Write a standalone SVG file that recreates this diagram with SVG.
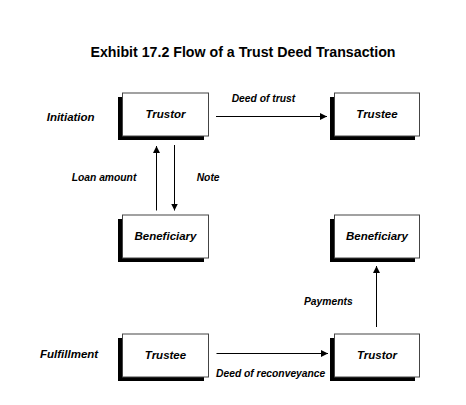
<svg xmlns="http://www.w3.org/2000/svg" width="466" height="405" viewBox="0 0 466 405">
<defs>
<style>
.shadow{fill:#000;}
.box{fill:#fff;stroke:#444;stroke-width:1;}
.node{font-family:"Liberation Sans",Arial,sans-serif;font-size:11.5px;font-weight:bold;font-style:italic;fill:#000;text-anchor:middle;}
.side{font-family:"Liberation Sans",Arial,sans-serif;font-size:11.5px;font-weight:bold;font-style:italic;fill:#000;}
.elabel{font-family:"Liberation Sans",Arial,sans-serif;font-size:10.3px;font-weight:bold;font-style:italic;fill:#000;}
.title{font-family:"Liberation Sans",Arial,sans-serif;font-size:14.2px;font-weight:bold;fill:#000;text-anchor:middle;}
.edge{stroke:#000;stroke-width:1;fill:none;marker-end:url(#arrow);}
</style>
<marker id="arrow" viewBox="0 0 10 10" refX="10" refY="5" markerWidth="7" markerHeight="7" markerUnits="userSpaceOnUse" orient="auto">
<path d="M0,0 L10,5 L0,10 z" fill="#000"/>
</marker>
</defs>
<rect width="466" height="405" fill="#fff"/>
<text class="title" x="243" y="57">Exhibit 17.2 Flow of a Trust Deed Transaction</text>
<text class="side" x="46.7" y="120.7">Initiation</text>
<text class="side" x="40" y="358">Fulfillment</text>

<g id="trustor-top">
<rect class="shadow" x="118" y="97" width="86" height="43"/>
<rect class="box" x="122.5" y="93" width="86" height="43"/>
<text class="node" x="165.5" y="117.5">Trustor</text>
</g>
<g id="trustee-top">
<rect class="shadow" x="330" y="97" width="85" height="43"/>
<rect class="box" x="334.5" y="93" width="85" height="43"/>
<text class="node" x="377" y="117.5">Trustee</text>
</g>
<g id="beneficiary-left">
<rect class="shadow" x="118" y="219" width="86" height="43"/>
<rect class="box" x="122.5" y="215" width="86" height="43"/>
<text class="node" x="165.5" y="239.5">Beneficiary</text>
</g>
<g id="beneficiary-right">
<rect class="shadow" x="330" y="219" width="85" height="43"/>
<rect class="box" x="334.5" y="215" width="85" height="43"/>
<text class="node" x="377" y="239.5">Beneficiary</text>
</g>
<g id="trustee-bottom">
<rect class="shadow" x="118" y="338" width="86" height="43"/>
<rect class="box" x="122.5" y="334" width="86" height="43"/>
<text class="node" x="165.5" y="358.5">Trustee</text>
</g>
<g id="trustor-bottom">
<rect class="shadow" x="330" y="338" width="85" height="43"/>
<rect class="box" x="334.5" y="334" width="85" height="43"/>
<text class="node" x="377" y="358.5">Trustor</text>
</g>

<g id="connectors">
<line class="edge" x1="216" y1="116.5" x2="327" y2="116.5"/>
<text class="elabel" x="231.7" y="102">Deed of trust</text>
<line class="edge" x1="156.5" y1="210.5" x2="156.5" y2="146"/>
<text class="elabel" x="71.7" y="181.4">Loan amount</text>
<line class="edge" x1="174.5" y1="145" x2="174.5" y2="210.5"/>
<text class="elabel" x="196.7" y="181">Note</text>
<line class="edge" x1="376.5" y1="327" x2="376.5" y2="266"/>
<text class="elabel" x="304" y="305.4">Payments</text>
<line class="edge" x1="216.5" y1="353.5" x2="328" y2="353.5"/>
<text class="elabel" x="216" y="376.7">Deed of reconveyance</text>
</g>
</svg>
